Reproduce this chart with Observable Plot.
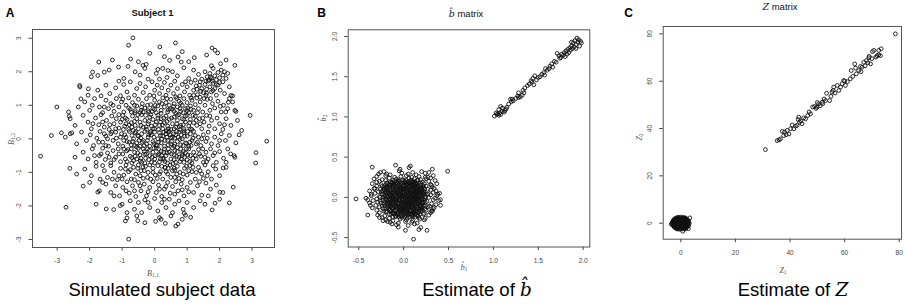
<!DOCTYPE html>
<html>
<head>
<meta charset="utf-8">
<script src="https://cdn.jsdelivr.net/npm/d3@7"></script>
<script src="https://cdn.jsdelivr.net/npm/@observablehq/plot@0.6"></script>
<style>
  html, body { margin: 0; padding: 0; background: #fff; }
  #wrap { position: relative; width: 907px; height: 304px; overflow: hidden; font-family: "Liberation Sans", Arial, sans-serif; }
  .abs { position: absolute; white-space: nowrap; transform: translate(-50%, -50%); line-height: 1; }
  .letter { font-weight: bold; font-size: 12px; color: #000; }
  .title { font-size: 9.5px; color: #111; }
  .caption { font-size: 18.5px; color: #000; }
  .math { font-family: "DejaVu Serif", "Liberation Serif", serif; font-style: italic; }
  .lab { font-family: "Liberation Serif", "DejaVu Serif", serif; font-style: italic; font-size: 8px; color: #555; }
  .lab sub { font-size: 5.5px; font-style: normal; vertical-align: -1.5px; }
  .rot { transform: translate(-50%, -50%) rotate(-90deg); }
  .plot { position: absolute; top: 0; }
</style>
</head>
<body>
<div id="wrap"></div>
<script>
// ---------------- DATA ----------------
// Panel A: simulated subject data (B_{1,1}, B_{1,2})
const subjectPoints = [
[-0.67,3.01],[-0.80,2.79],[0.16,2.74],[0.64,2.86],[1.77,2.71],[1.86,2.64],[1.94,2.56],[-1.72,2.29],[-0.74,2.38],[-1.91,1.99],
[-1.55,1.99],[-1.75,1.89],[-1.11,2.14],[-0.82,2.16],[-0.36,2.19],[-0.26,2.22],[0.10,2.07],[0.41,2.04],[0.46,2.34],[0.72,2.44],
[0.82,2.29],[1.22,2.42],[2.47,2.19],[2.03,2.24],[1.75,2.18],[-2.31,1.59],[-2.04,1.49],[-2.27,1.19],[-3.01,0.95],[-2.63,0.67],
[-3.18,0.10],[-2.87,0.18],[-2.60,0.15],[-3.51,-0.52],[-2.61,-0.88],[-2.73,-2.04],[-2.20,-1.41],[-1.75,-1.59],[-1.49,-2.09],[-1.26,-2.11],
[-1.06,-1.99],[-0.80,-2.99],[-0.85,-2.36],[-0.52,-2.44],[0.03,-2.46],[0.33,-2.52],[0.72,-2.54],[1.11,-2.34],[0.91,-2.22],[1.77,-2.12],
[1.86,-1.92],[2.30,-1.91],[2.01,-1.59],[2.42,-1.44],[3.11,-0.72],[3.12,-0.41],[3.45,-0.07],[2.94,0.70],[2.68,0.25],[2.60,0.12],
[2.34,-0.45],[2.47,-0.55],[2.11,-0.87],[2.35,1.29],[2.27,1.09],[2.47,0.85],[2.19,0.80],[2.02,0.97],
[-0.5,2.3],[0.3,2.45],[1.05,2.3],[-1.3,2.35],[0.85,2.6],[1.6,2.5],[-0.15,2.55],[2.2,2.35],
[-1.95,1.85],[-1.4,2.05],[-0.95,1.8],[-0.6,2.0],[-0.45,1.9],[-0.2,1.78],[0.05,1.95],[0.25,2.1],[0.38,1.83],[0.55,2.0],
[0.7,1.88],[0.9,2.12],[1.05,1.8],[1.2,2.05],[1.35,1.92],[1.45,1.78],[1.55,2.0],[1.62,1.85],[1.7,1.95],[1.75,1.8],
[1.8,2.1],[1.85,1.88],[1.9,1.76],[1.95,1.98],[2.0,1.82],[2.05,2.05],[2.1,1.9],[2.15,2.0],[2.2,1.8],[1.68,1.76],
[1.78,1.72],[2.25,1.95],[-0.3,2.1],[0.15,1.78],
[-2.3,1.55],[-2.05,1.3],[-1.75,1.45],[-1.5,1.6],[-1.38,1.35],[-1.2,1.52],[-1.05,1.28],[-0.95,1.62],[-0.85,1.4],[-0.75,1.7],
[-0.62,1.3],[-0.55,1.5],[-0.45,1.65],[-0.35,1.38],[-0.28,1.55],[-0.15,1.3],[-0.08,1.7],[0.0,1.45],[0.08,1.6],[0.15,1.35],
[0.22,1.52],[0.3,1.68],[0.35,1.3],[0.42,1.45],[0.5,1.6],[0.58,1.35],[0.62,1.72],[0.7,1.5],[0.78,1.28],[0.85,1.62],
[0.92,1.4],[1.0,1.55],[1.08,1.3],[1.12,1.68],[1.2,1.45],[1.28,1.58],[1.32,1.32],[1.4,1.7],[1.45,1.5],[1.5,1.38],
[1.55,1.62],[1.6,1.48],[1.65,1.72],[1.7,1.55],[1.75,1.4],[1.8,1.65],[1.85,1.5],[1.9,1.3],[1.95,1.6],[2.02,1.45],
[2.1,1.7],[2.15,1.35],[2.3,1.55],[2.4,1.28],[1.58,1.3],[1.38,1.6],[0.95,1.7],[-1.65,1.28],[-0.02,1.28],[0.65,1.25],
[1.25,1.75],[2.0,1.68],[-1.1,1.72],
[-2.65,0.8],[-2.15,1.1],[-2.0,0.85],[-1.85,1.2],[-1.7,0.95],[-1.6,0.78],[-1.5,1.15],[-1.42,0.9],[-1.35,1.05],[-1.25,0.82],
[-1.18,1.2],[-1.1,0.95],[-1.02,1.1],[-0.95,0.8],[-0.88,1.0],[-0.8,1.22],[-0.75,0.88],[-0.68,1.08],[-0.6,0.78],[-0.55,0.98],
[-0.5,1.18],[-0.42,0.85],[-0.38,1.05],[-0.3,0.92],[-0.25,1.2],[-0.18,0.8],[-0.12,1.02],[-0.05,0.9],[0.0,1.15],[0.05,0.78],
[0.1,0.98],[0.15,1.1],[0.2,0.85],[0.25,1.22],[0.3,0.95],[0.35,1.08],[0.4,0.8],[0.45,1.0],[0.5,1.18],[0.55,0.88],
[0.6,1.05],[0.65,0.76],[0.7,0.95],[0.75,1.12],[0.8,0.82],[0.85,1.0],[0.9,1.2],[0.95,0.9],[1.0,1.08],[1.05,0.78],
[1.1,0.98],[1.15,1.15],[1.2,0.85],[1.25,1.02],[1.3,1.22],[1.35,0.9],[1.4,1.1],[1.48,0.8],[1.55,1.0],[1.62,1.18],
[1.7,0.85],[1.78,1.05],[1.85,0.92],[1.95,1.12],[2.05,0.8],[2.12,1.0],[2.25,0.9],[2.4,1.1],[2.5,0.82],[-2.35,0.95],
[-0.98,1.18],[-0.72,0.8],[-0.22,1.0],[0.22,1.05],[0.68,1.2],[1.12,0.88],[1.52,1.2],[-1.92,1.0],[-0.45,0.78],[0.38,1.2],
[0.88,0.78],[1.32,0.78],[1.72,1.2],[-1.28,1.0],[-0.08,0.82],[0.58,0.96],[0.02,1.0],[-0.62,1.0],[1.02,0.92],[0.48,0.9],
[-0.35,0.8],[0.78,0.9],[-1.55,0.95],[2.3,1.2],
[-2.45,0.4],[-2.2,0.7],[-2.05,0.5],[-1.95,0.3],[-1.82,0.62],[-1.72,0.42],[-1.65,0.72],[-1.55,0.35],[-1.48,0.55],[-1.4,0.28],
[-1.32,0.68],[-1.25,0.45],[-1.18,0.6],[-1.1,0.32],[-1.05,0.5],[-0.98,0.7],[-0.92,0.38],[-0.85,0.58],[-0.8,0.28],[-0.72,0.48],
[-0.68,0.68],[-0.6,0.4],[-0.55,0.6],[-0.5,0.3],[-0.45,0.5],[-0.4,0.72],[-0.35,0.35],[-0.3,0.55],[-0.25,0.28],[-0.2,0.45],
[-0.15,0.65],[-0.1,0.38],[-0.05,0.58],[0.0,0.3],[0.05,0.5],[0.1,0.7],[0.15,0.4],[0.2,0.6],[0.25,0.3],[0.3,0.48],
[0.35,0.68],[0.4,0.38],[0.45,0.58],[0.5,0.28],[0.55,0.45],[0.6,0.65],[0.65,0.35],[0.7,0.55],[0.75,0.72],[0.8,0.4],
[0.85,0.6],[0.9,0.3],[0.95,0.5],[1.0,0.7],[1.05,0.38],[1.1,0.58],[1.15,0.28],[1.2,0.48],[1.25,0.68],[1.3,0.4],
[1.38,0.6],[1.45,0.3],[1.52,0.5],[1.6,0.7],[1.68,0.38],[1.75,0.55],[1.85,0.3],[1.92,0.62],[2.0,0.45],[2.1,0.28],
[2.2,0.6],[2.35,0.4],[2.55,0.55],[-2.6,0.6],[-1.9,0.45],[-1.38,0.42],[-0.88,0.45],[-0.62,0.52],[-0.42,0.4],[-0.18,0.52],
[0.02,0.42],[0.18,0.5],[0.38,0.52],[0.52,0.62],[0.68,0.45],[0.88,0.42],[1.08,0.48],[1.28,0.55],[1.48,0.62],[-1.0,0.58],
[-0.28,0.7],[0.28,0.62],[0.78,0.28],[1.18,0.7],[-0.7,0.35],[-0.05,0.3],[0.6,0.3],[1.7,0.68],[-1.2,0.3],[0.12,0.28],
[-0.52,0.72],[0.95,0.68],[2.15,0.42],[-1.6,0.5],[0.42,0.3],[-0.12,0.72],[1.4,0.45],[0.7,0.7],
[-2.75,0.05],[-2.4,-0.15],[-2.25,0.2],[-2.1,-0.05],[-1.98,0.12],[-1.88,-0.2],[-1.78,0.02],[-1.68,0.22],[-1.6,-0.1],[-1.5,0.08],
[-1.42,-0.22],[-1.35,0.15],[-1.28,-0.05],[-1.2,0.2],[-1.12,-0.15],[-1.05,0.05],[-0.98,-0.22],[-0.92,0.12],[-0.85,-0.08],[-0.78,0.22],
[-0.72,-0.18],[-0.65,0.0],[-0.6,0.18],[-0.55,-0.12],[-0.5,0.08],[-0.45,-0.22],[-0.4,0.15],[-0.35,-0.05],[-0.3,0.22],[-0.25,-0.15],
[-0.2,0.05],[-0.15,-0.22],[-0.1,0.12],[-0.05,-0.08],[0.0,0.2],[0.05,-0.18],[0.1,0.0],[0.15,0.18],[0.2,-0.12],[0.25,0.08],
[0.3,-0.22],[0.35,0.15],[0.4,-0.05],[0.45,0.22],[0.5,-0.15],[0.55,0.05],[0.6,-0.22],[0.65,0.12],[0.7,-0.08],[0.75,0.2],
[0.8,-0.18],[0.85,0.0],[0.9,0.18],[0.95,-0.12],[1.0,0.08],[1.05,-0.22],[1.1,0.15],[1.15,-0.05],[1.2,0.22],[1.28,-0.15],
[1.35,0.05],[1.42,-0.2],[1.5,0.12],[1.58,-0.08],[1.65,0.2],[1.75,-0.15],[1.85,0.05],[1.95,-0.2],[2.05,0.15],[2.18,-0.05],
[2.3,0.1],[2.5,-0.12],[-2.55,0.18],[-1.55,0.15],[-1.02,0.15],[-0.68,-0.08],[-0.42,0.02],[-0.22,-0.05],[-0.02,0.05],[0.18,0.1],
[0.32,-0.05],[0.48,0.12],[0.62,0.02],[0.78,-0.02],[0.92,0.08],[1.08,-0.1],[1.25,0.1],[1.45,0.0],[-0.88,0.05],[-0.32,-0.2],
[0.08,-0.2],[0.42,0.2],[0.88,-0.2],[1.18,0.02],[-1.18,0.02],[-0.58,0.22],[0.28,0.2],[0.68,0.22],[1.62,0.02],[-1.72,-0.1],
[-0.12,0.22],[0.52,-0.08],[1.02,0.22],[-0.78,-0.1],[0.12,-0.1],[0.72,0.05],[-0.48,-0.05],[0.38,0.05],[1.32,-0.1],[-1.45,0.0],
[2.0,-0.05],[-0.18,0.12],[0.58,0.15],[-0.95,-0.05],[0.22,0.0],[0.82,0.12],[-0.62,-0.2],[1.12,-0.2],
[-2.2,-0.4],[-2.05,-0.6],[-1.92,-0.3],[-1.8,-0.7],[-1.7,-0.5],[-1.6,-0.28],[-1.52,-0.62],[-1.45,-0.42],[-1.35,-0.72],[-1.28,-0.35],
[-1.2,-0.55],[-1.12,-0.3],[-1.05,-0.68],[-0.98,-0.45],[-0.9,-0.6],[-0.82,-0.32],[-0.75,-0.52],[-0.7,-0.72],[-0.62,-0.4],[-0.55,-0.6],
[-0.5,-0.28],[-0.45,-0.48],[-0.4,-0.7],[-0.32,-0.38],[-0.28,-0.58],[-0.22,-0.3],[-0.15,-0.5],[-0.1,-0.7],[-0.05,-0.4],[0.0,-0.6],
[0.05,-0.28],[0.1,-0.48],[0.15,-0.68],[0.2,-0.38],[0.25,-0.58],[0.3,-0.3],[0.35,-0.5],[0.4,-0.72],[0.45,-0.4],[0.5,-0.6],
[0.55,-0.28],[0.6,-0.48],[0.65,-0.7],[0.7,-0.38],[0.75,-0.55],[0.8,-0.3],[0.85,-0.5],[0.9,-0.7],[0.95,-0.42],[1.0,-0.62],
[1.05,-0.3],[1.1,-0.5],[1.15,-0.72],[1.2,-0.4],[1.28,-0.6],[1.35,-0.32],[1.42,-0.52],[1.5,-0.7],[1.58,-0.4],[1.65,-0.6],
[1.72,-0.3],[1.8,-0.5],[1.9,-0.7],[2.0,-0.38],[2.12,-0.58],[2.25,-0.3],[2.45,-0.5],[-2.45,-0.55],[-1.65,-0.45],[-1.1,-0.45],
[-0.85,-0.68],[-0.6,-0.52],[-0.35,-0.3],[-0.18,-0.62],[0.02,-0.5],[0.22,-0.5],[0.42,-0.3],[0.6,-0.62],[0.78,-0.68],[0.98,-0.3],
[1.18,-0.58],[1.38,-0.45],[1.6,-0.68],[-1.25,-0.62],[-0.72,-0.3],[-0.42,-0.58],[0.12,-0.3],[0.32,-0.68],[0.68,-0.52],[0.88,-0.38],
[1.08,-0.68],[1.48,-0.3],[1.85,-0.42],[-1.4,-0.55],[-0.95,-0.3],[-0.25,-0.45],[0.52,-0.45],[1.25,-0.5],[-0.08,-0.55],[0.18,-0.6],
[0.82,-0.6],[-0.52,-0.42],[0.38,-0.42],[1.02,-0.48],[2.2,-0.7],[-1.85,-0.5],[-0.65,-0.65],[0.62,-0.35],[1.55,-0.55],[-0.3,-0.72],
[0.28,-0.4],[0.92,-0.55],
[-2.15,-0.9],[-1.95,-1.1],[-1.8,-0.82],[-1.68,-1.2],[-1.55,-0.95],[-1.45,-1.15],[-1.35,-0.8],[-1.25,-1.0],[-1.15,-1.22],[-1.05,-0.88],
[-0.95,-1.08],[-0.88,-0.78],[-0.8,-0.98],[-0.72,-1.2],[-0.65,-0.85],[-0.58,-1.05],[-0.5,-0.78],[-0.42,-0.95],[-0.35,-1.18],[-0.28,-0.82],
[-0.2,-1.0],[-0.12,-1.2],[-0.05,-0.88],[0.02,-1.08],[0.1,-0.8],[0.18,-0.98],[0.25,-1.2],[0.32,-0.85],[0.4,-1.05],[0.48,-0.78],
[0.55,-0.95],[0.62,-1.15],[0.7,-0.82],[0.78,-1.0],[0.85,-1.22],[0.92,-0.88],[1.0,-1.08],[1.08,-0.8],[1.15,-0.98],[1.25,-1.2],
[1.35,-0.85],[1.45,-1.05],[1.55,-0.78],[1.65,-0.98],[1.75,-1.2],[1.88,-0.9],[2.0,-1.1],[2.2,-0.85],[-2.4,-1.05],[-1.6,-0.8],
[-1.1,-1.1],[-0.75,-0.92],[-0.45,-1.1],[-0.15,-0.78],[0.08,-1.18],[0.35,-0.98],[0.6,-0.88],[0.88,-1.05],[1.18,-0.85],[1.5,-1.18],
[1.8,-0.8],[-1.3,-1.2],[-0.62,-1.22],[-0.32,-0.95],[0.22,-0.82],[0.5,-1.15],[0.75,-1.18],[1.05,-0.95],[1.4,-0.95],[-0.9,-0.9],
[-0.05,-1.0],[0.42,-0.88],[0.98,-0.82],[-1.0,-1.2],[1.62,-1.1],[-0.52,-0.88],[0.15,-1.05],[0.68,-1.05],[-0.22,-1.15],[1.28,-1.0],
[-2.0,-1.3],[-1.7,-1.55],[-1.5,-1.35],[-1.35,-1.6],[-1.2,-1.4],[-1.08,-1.7],[-0.98,-1.45],[-0.85,-1.28],[-0.78,-1.62],[-0.68,-1.4],
[-0.58,-1.72],[-0.5,-1.3],[-0.42,-1.55],[-0.32,-1.35],[-0.25,-1.7],[-0.15,-1.45],[-0.05,-1.28],[0.05,-1.6],[0.12,-1.38],[0.22,-1.72],
[0.3,-1.5],[0.4,-1.3],[0.48,-1.62],[0.55,-1.42],[0.65,-1.28],[0.72,-1.55],[0.82,-1.35],[0.9,-1.7],[1.0,-1.45],[1.1,-1.3],
[1.2,-1.6],[1.32,-1.4],[1.45,-1.68],[1.58,-1.32],[1.72,-1.5],[1.9,-1.38],[2.1,-1.6],[-1.25,-1.7],[-0.88,-1.55],[-0.45,-1.4],
[0.15,-1.5],[0.62,-1.65],[1.05,-1.58],[1.38,-1.28],[-1.6,-1.3],[-0.62,-1.55],[0.35,-1.42],[0.85,-1.52],[-0.2,-1.58],[1.65,-1.7],
[-1.0,-1.95],[-0.75,-1.85],[-0.62,-2.1],[-0.5,-1.9],[-0.4,-2.2],[-0.3,-1.82],[-0.15,-2.05],[0.0,-1.78],[0.1,-2.15],[0.22,-1.9],
[0.35,-2.05],[0.45,-1.8],[0.55,-2.2],[0.62,-1.95],[0.75,-1.85],[0.88,-2.1],[1.0,-1.9],[1.2,-2.05],[1.4,-1.85],[-1.8,-1.95],
[-0.85,-2.2],[0.3,-1.8],[-0.2,-1.9],[1.55,-1.95],[2.0,-1.8],
[-0.55,-2.3],[-0.3,-2.5],[0.15,-2.35],[0.2,-2.4],[0.5,-2.3],[0.95,-2.28],[-0.9,-2.45],[0.65,-2.6],[0.85,-2.4],
[-0.9,0.62],[-0.78,0.42],[-0.66,0.25],[-0.52,0.1],[-0.38,-0.1],[-0.26,0.36],[-0.14,0.18],[-0.02,-0.14],[0.1,0.62],[0.24,0.42],
[0.36,0.24],[0.5,0.04],[0.62,-0.16],[0.76,0.36],[0.9,0.58],[-0.86,-0.36],[-0.7,-0.56],[-0.56,-0.24],[-0.44,-0.66],[-0.3,-0.46],
[-0.16,-0.34],[0.0,-0.72],[0.14,-0.44],[0.28,-0.62],[0.42,-0.18],[0.56,-0.74],[0.7,-0.26],[0.84,-0.44],[0.98,-0.14],[-0.96,0.28],
[-0.8,0.92],[-0.6,0.84],[-0.4,0.94],[-0.2,0.84],[0.0,0.88],[0.2,0.76],[0.42,0.86],[0.6,0.82],[0.8,1.06],[1.0,0.84],
[1.2,1.3],[1.4,1.24],[1.6,1.36],[1.8,1.44],[1.9,1.62],[1.72,1.84],[1.58,1.72],[1.42,1.42],[1.3,1.48],[1.12,1.22],
[-0.02,-0.28],[0.32,-0.86],[-0.36,-0.84],[0.62,-0.94],[-0.7,0.1],[0.9,0.24],[1.1,0.3],[-1.1,0.72],[-1.32,0.2],[-1.5,-0.2]
];

// Panel B: estimate of b-hat (b1, b2) — central cluster and the diagonal group
const bhatCluster = [
[-0.53,-0.02],[-0.40,-0.03],[-0.40,-0.22],[-0.35,0.375],[-0.37,-0.10],[-0.26,0.31],[-0.09,0.40],[0.075,0.39],[0.06,0.37],[0.32,0.35],
[0.49,0.325],[0.41,-0.03],[0.41,-0.10],[0.38,0.04],[0.31,0.15],[0.11,-0.52],[0.02,-0.41],[-0.06,-0.37],[0.17,-0.40],[0.26,-0.41],
[-0.30,0.19],[-0.32,0.11],[-0.36,0.04],[0.32,-0.17],[0.34,-0.125],[0.19,-0.375],[-0.23,-0.29],[-0.27,-0.25],[-0.18,-0.30],[-0.13,-0.33],
[0.24,0.25],[-0.19,0.29],[-0.04,0.35],
[-0.22,0.32],[-0.05,0.33],[0.1,0.31],[0.2,0.32],[0.28,0.31],
[-0.28,0.29],[-0.15,0.28],[-0.02,0.3],[0.05,0.29],[0.14,0.28],[0.24,0.3],
[-0.3,0.26],[-0.2,0.27],[-0.1,0.25],[-0.03,0.26],[0.03,0.27],[0.09,0.25],[0.17,0.26],[0.27,0.25],[0.33,0.27],
[-0.33,0.23],[-0.24,0.22],[-0.16,0.24],[-0.08,0.23],[-0.01,0.22],[0.06,0.24],[0.12,0.23],[0.19,0.22],[0.25,0.23],[0.3,0.24],
[-0.27,0.2],[-0.2,0.21],[-0.13,0.19],[-0.06,0.2],[0.0,0.21],[0.05,0.19],[0.1,0.2],[0.15,0.21],[0.21,0.19],[0.28,0.2],[0.35,0.21],
[-0.35,0.17],[-0.25,0.16],[-0.18,0.18],[-0.11,0.17],[-0.05,0.16],[0.01,0.18],[0.07,0.17],[0.12,0.16],[0.17,0.18],[0.23,0.17],[0.3,0.16],[0.37,0.17],
[-0.3,0.14],[-0.22,0.13],[-0.15,0.15],[-0.09,0.14],[-0.03,0.13],[0.03,0.15],[0.08,0.14],[0.13,0.13],[0.19,0.15],[0.25,0.14],[0.32,0.13],
[-0.33,0.11],[-0.26,0.1],[-0.19,0.12],[-0.12,0.11],[-0.07,0.1],[-0.01,0.12],[0.04,0.11],[0.1,0.1],[0.15,0.12],[0.2,0.11],[0.27,0.1],[0.34,0.11],
[-0.38,0.08],[-0.28,0.07],[-0.21,0.09],[-0.15,0.08],[-0.09,0.07],[-0.04,0.09],[0.02,0.08],[0.07,0.07],[0.12,0.09],[0.17,0.08],[0.23,0.07],[0.3,0.09],[0.36,0.08],
[-0.32,0.05],[-0.24,0.04],[-0.17,0.06],[-0.11,0.05],[-0.06,0.04],[0.0,0.06],[0.05,0.05],[0.1,0.04],[0.15,0.06],[0.21,0.05],[0.27,0.04],[0.33,0.06],[0.4,0.05],
[-0.36,0.02],[-0.27,0.01],[-0.2,0.03],[-0.13,0.02],[-0.08,0.01],[-0.02,0.03],[0.03,0.02],[0.08,0.01],[0.13,0.03],[0.18,0.02],[0.24,0.01],[0.3,0.03],[0.37,0.02],
[-0.42,-0.01],[-0.3,-0.02],[-0.23,0.0],[-0.16,-0.01],[-0.1,-0.02],[-0.05,0.0],[0.01,-0.01],[0.06,-0.02],[0.11,0.0],[0.16,-0.01],[0.22,-0.02],[0.28,0.0],[0.35,-0.01],
[-0.34,-0.04],[-0.26,-0.05],[-0.19,-0.03],[-0.12,-0.04],[-0.07,-0.05],[-0.01,-0.03],[0.04,-0.04],[0.09,-0.05],[0.14,-0.03],[0.2,-0.04],[0.26,-0.05],[0.33,-0.03],[0.39,-0.04],
[-0.38,-0.07],[-0.29,-0.06],[-0.22,-0.08],[-0.15,-0.07],[-0.09,-0.06],[-0.03,-0.08],[0.02,-0.07],[0.07,-0.06],[0.12,-0.08],[0.18,-0.07],[0.24,-0.06],[0.31,-0.08],
[-0.31,-0.1],[-0.24,-0.11],[-0.17,-0.09],[-0.11,-0.1],[-0.05,-0.11],[0.0,-0.09],[0.05,-0.1],[0.1,-0.11],[0.16,-0.09],[0.22,-0.1],[0.29,-0.11],[0.36,-0.09],
[-0.35,-0.13],[-0.27,-0.12],[-0.2,-0.14],[-0.13,-0.13],[-0.07,-0.12],[-0.02,-0.14],[0.04,-0.13],[0.09,-0.12],[0.14,-0.14],[0.2,-0.13],[0.27,-0.12],[0.33,-0.14],
[-0.3,-0.16],[-0.22,-0.17],[-0.15,-0.15],[-0.09,-0.16],[-0.03,-0.17],[0.02,-0.15],[0.07,-0.16],[0.13,-0.17],[0.18,-0.15],[0.25,-0.16],[0.31,-0.17],
[-0.27,-0.19],[-0.19,-0.18],[-0.12,-0.2],[-0.06,-0.19],[0.0,-0.18],[0.06,-0.2],[0.11,-0.19],[0.17,-0.18],[0.23,-0.2],[0.3,-0.19],
[-0.29,-0.22],[-0.21,-0.23],[-0.14,-0.21],[-0.07,-0.22],[-0.01,-0.23],[0.05,-0.21],[0.1,-0.22],[0.16,-0.23],[0.22,-0.21],[0.28,-0.22],
[-0.24,-0.25],[-0.16,-0.26],[-0.09,-0.24],[-0.02,-0.25],[0.04,-0.26],[0.1,-0.24],[0.17,-0.25],[0.24,-0.26],
[-0.2,-0.28],[-0.12,-0.29],[-0.04,-0.27],[0.03,-0.28],[0.1,-0.29],[0.18,-0.27],[0.23,-0.28],
[-0.15,-0.31],[-0.06,-0.32],[0.02,-0.3],[0.09,-0.31],[0.15,-0.32],
[-0.08,-0.34],[0.05,-0.35],[0.12,-0.33],
[-0.15,0.185],[-0.08,0.19],[-0.02,0.18],[0.04,0.185],[0.09,0.19],[0.14,0.18],
[-0.2,0.155],[-0.12,0.15],[0.0,0.16],[0.1,0.155],[0.16,0.15],
[-0.16,0.125],[-0.04,0.12],[0.06,0.13],[0.13,0.125],[0.22,0.12],
[-0.18,0.095],[-0.11,0.09],[-0.01,0.1],[0.05,0.095],[0.15,0.09],[0.2,0.1],
[-0.2,0.065],[-0.13,0.06],[-0.03,0.07],[0.08,0.065],[0.13,0.06],[0.18,0.07],
[-0.16,0.035],[-0.05,0.03],[0.06,0.04],[0.11,0.035],[0.16,0.03],[0.22,0.04],
[-0.19,0.005],[-0.12,0.0],[-0.02,0.01],[0.04,0.005],[0.14,0.0],[0.19,0.01],
[-0.15,-0.025],[-0.04,-0.03],[0.07,-0.02],[0.12,-0.025],[0.17,-0.03],
[-0.18,-0.055],[-0.11,-0.05],[0.0,-0.06],[0.05,-0.055],[0.15,-0.05],[0.21,-0.06],
[-0.13,-0.085],[-0.06,-0.08],[0.05,-0.09],[0.1,-0.085],[0.16,-0.08],
[-0.15,-0.115],[-0.08,-0.11],[0.02,-0.12],[0.07,-0.115],[0.18,-0.11],
[-0.17,-0.145],[-0.05,-0.14],[0.0,-0.15],[0.1,-0.145],[0.16,-0.14],
[-0.14,-0.175],[-0.02,-0.17],[0.04,-0.18],[0.14,-0.175],
[-0.1,-0.205],[0.03,-0.2],[0.08,-0.21],[0.13,-0.205],
[-0.12,0.215],[-0.06,0.215],[0.02,0.215],[0.08,0.215],[0.16,0.215],
[-0.19,0.175],[-0.13,0.175],[-0.065,0.175],[0.025,0.175],[0.065,0.175],[0.115,0.175],[0.19,0.175],
[-0.24,0.14],[-0.18,0.14],[-0.11,0.14],[-0.055,0.14],[0.005,0.14],[0.055,0.14],[0.105,0.14],[0.165,0.14],[0.22,0.14],
[-0.22,0.105],[-0.15,0.105],[-0.09,0.105],[-0.04,0.105],[0.015,0.105],[0.075,0.105],[0.125,0.105],[0.175,0.105],[0.235,0.105],
[-0.25,0.07],[-0.17,0.07],[-0.115,0.07],[-0.06,0.07],[-0.005,0.07],[0.04,0.07],[0.1,0.07],[0.155,0.07],[0.215,0.07],
[-0.22,0.035],[-0.145,0.035],[-0.09,0.035],[-0.03,0.035],[0.015,0.035],[0.085,0.035],[0.135,0.035],[0.19,0.035],[0.25,0.035],
[-0.26,0.0],[-0.175,0.0],[-0.135,0.0],[-0.075,0.0],[-0.03,0.0],[0.025,0.0],[0.085,0.0],[0.125,0.0],[0.175,0.0],[0.24,0.0],
[-0.23,-0.035],[-0.165,-0.035],[-0.095,-0.035],[-0.055,-0.035],[0.015,-0.035],[0.065,-0.035],[0.115,-0.035],[0.165,-0.035],[0.23,-0.035],
[-0.25,-0.07],[-0.18,-0.07],[-0.12,-0.07],[-0.055,-0.07],[-0.005,-0.07],[0.045,-0.07],[0.095,-0.07],[0.145,-0.07],[0.21,-0.07],
[-0.21,-0.105],[-0.14,-0.105],[-0.08,-0.105],[-0.025,-0.105],[0.025,-0.105],[0.085,-0.105],[0.135,-0.105],[0.195,-0.105],[0.245,-0.105],
[-0.23,-0.14],[-0.12,-0.14],[-0.075,-0.14],[-0.025,-0.14],[0.05,-0.14],[0.11,-0.14],[0.2,-0.14],[0.24,-0.14],
[-0.2,-0.175],[-0.1,-0.175],[-0.045,-0.175],[0.01,-0.175],[0.08,-0.175],[0.115,-0.175],[0.19,-0.175],
[-0.16,-0.21],[-0.06,-0.21],[0.005,-0.21],[0.055,-0.21],[0.1,-0.21],[0.18,-0.21],
[-0.12,-0.245],[-0.05,-0.245],[0.01,-0.245],[0.07,-0.245],[0.13,-0.245],
[-0.11,0.195],[-0.045,0.195],[0.015,0.195],[0.065,0.195],[0.12,0.195],
[-0.16,0.158],[-0.085,0.158],[-0.03,0.158],[0.035,0.158],[0.085,0.158],[0.14,0.158],
[-0.2,0.122],[-0.13,0.122],[-0.075,0.122],[-0.02,0.122],[0.035,0.122],[0.09,0.122],[0.15,0.122],[0.2,0.122],
[-0.23,0.087],[-0.145,0.087],[-0.075,0.087],[-0.025,0.087],[0.03,0.087],[0.09,0.087],[0.14,0.087],[0.2,0.087],
[-0.19,0.052],[-0.13,0.052],[-0.075,0.052],[-0.015,0.052],[0.03,0.052],[0.075,0.052],[0.12,0.052],[0.17,0.052],[0.23,0.052],
[-0.21,0.017],[-0.15,0.017],[-0.1,0.017],[-0.05,0.017],[0.0,0.017],[0.05,0.017],[0.1,0.017],[0.15,0.017],[0.21,0.017],
[-0.2,-0.018],[-0.13,-0.018],[-0.075,-0.018],[-0.02,-0.018],[0.04,-0.018],[0.09,-0.018],[0.14,-0.018],[0.2,-0.018],
[-0.21,-0.052],[-0.14,-0.052],[-0.085,-0.052],[-0.025,-0.052],[0.025,-0.052],[0.075,-0.052],[0.125,-0.052],[0.18,-0.052],
[-0.19,-0.087],[-0.15,-0.087],[-0.09,-0.087],[-0.03,-0.087],[0.02,-0.087],[0.07,-0.087],[0.125,-0.087],[0.19,-0.087],
[-0.18,-0.122],[-0.105,-0.122],[-0.05,-0.122],[0.0,-0.122],[0.045,-0.122],[0.1,-0.122],[0.15,-0.122],[0.21,-0.122],
[-0.15,-0.158],[-0.09,-0.158],[-0.02,-0.158],[0.03,-0.158],[0.09,-0.158],[0.14,-0.158],[0.2,-0.158],
[-0.12,-0.192],[-0.07,-0.192],[-0.02,-0.192],[0.05,-0.192],[0.11,-0.192],[0.16,-0.192],
[-0.09,-0.228],[-0.03,-0.228],[0.03,-0.228],[0.09,-0.228],[0.15,-0.228]
];
const bhatLine = [
[1.01,1.01],[1.03,1.05],[1.04,1.03],[1.05,1.04],[1.06,1.02],[1.07,1.05],[1.08,1.03],[1.06,1.09],[1.08,1.13],[1.1,1.07],
[1.12,1.06],[1.13,1.08],[1.14,1.1],[1.15,1.12],[1.17,1.16],[1.2,1.19],[1.21,1.22],[1.22,1.2],[1.25,1.23],[1.27,1.26],
[1.28,1.3],[1.3,1.25],[1.32,1.27],[1.33,1.33],[1.34,1.3],[1.35,1.36],[1.38,1.39],[1.4,1.41],[1.42,1.45],[1.43,1.43],
[1.44,1.48],[1.45,1.4],[1.48,1.46],[1.5,1.49],[1.52,1.5],[1.54,1.53],[1.56,1.55],[1.57,1.52],[1.6,1.58],[1.62,1.6],
[1.63,1.63],[1.65,1.66],[1.66,1.62],[1.68,1.69],[1.7,1.68],[1.71,1.79],[1.73,1.76],[1.75,1.74],[1.76,1.78],[1.78,1.77],
[1.79,1.8],[1.8,1.75],[1.81,1.82],[1.82,1.78],[1.83,1.84],[1.84,1.8],[1.85,1.86],[1.86,1.83],[1.87,1.88],[1.88,1.85],
[1.89,1.92],[1.9,1.87],[1.91,1.95],[1.92,1.9],[1.93,1.98],[1.94,1.93],[1.95,1.96],[1.96,1.88],[1.97,1.94],[1.98,1.92],
[1.92,1.85],[1.87,1.93],[1.74,1.73],[1.58,1.6],[1.46,1.51],[1.28,1.24],[1.19,1.22],[1.1,1.11]
];

// Panel C: estimate of Z (Z1, Z2)
const zCluster = [
[-1,2.5],[0,2.6],[1,2.4],
[-2,2.0],[-1.2,2.1],[-0.4,1.9],[0.4,2.0],[1.2,2.1],[2,1.9],
[-2.5,1.5],[-1.7,1.4],[-0.9,1.6],[-0.1,1.5],[0.7,1.4],[1.5,1.6],[2.3,1.5],
[-2.8,1.0],[-2,1.1],[-1.2,0.9],[-0.4,1.0],[0.4,1.1],[1.2,0.9],[2,1.0],[2.8,1.1],
[-3,0.5],[-2.2,0.4],[-1.4,0.6],[-0.6,0.5],[0.2,0.4],[1,0.6],[1.8,0.5],[2.6,0.4],
[-3.2,0.0],[-2.4,0.1],[-1.6,-0.1],[-0.8,0.0],[0,0.1],[0.8,-0.1],[1.6,0.0],[2.4,0.1],[3.1,0.0],
[-2.9,-0.5],[-2.1,-0.4],[-1.3,-0.6],[-0.5,-0.5],[0.3,-0.4],[1.1,-0.6],[1.9,-0.5],[2.7,-0.4],
[-2.7,-1.0],[-1.9,-1.1],[-1.1,-0.9],[-0.3,-1.0],[0.5,-1.1],[1.3,-0.9],[2.1,-1.0],[2.8,-1.1],
[-2.4,-1.5],[-1.6,-1.4],[-0.8,-1.6],[0,-1.5],[0.8,-1.4],[1.6,-1.6],[2.4,-1.5],
[-2,-2.0],[-1.2,-2.1],[-0.4,-1.9],[0.4,-2.0],[1.2,-2.1],[2,-1.9],
[-1.2,-2.5],[-0.3,-2.6],[0.6,-2.4],[1.4,-2.5],
[3.3,2.25],[0.7,-3.4],[-3.5,-0.5],[2.8,-2.3],
[-1.5,2.25],[-0.6,2.25],[0.2,2.25],[1.0,2.25],[1.6,2.25],
[-2.2,1.75],[-1.4,1.75],[-0.6,1.75],[0.2,1.75],[1.0,1.75],[1.8,1.75],
[-2.6,1.25],[-1.8,1.25],[-1.0,1.25],[-0.2,1.25],[0.6,1.25],[1.4,1.25],[2.2,1.25],
[-2.8,0.75],[-2.0,0.75],[-1.2,0.75],[-0.4,0.75],[0.4,0.75],[1.2,0.75],[2.0,0.75],[2.8,0.75],
[-3.0,0.25],[-2.0,0.25],[-1.2,0.25],[-0.4,0.25],[0.4,0.25],[1.2,0.25],[2.0,0.25],[2.8,0.25],
[-3.0,-0.25],[-2.2,-0.25],[-1.4,-0.25],[-0.6,-0.25],[0.2,-0.25],[1.0,-0.25],[1.8,-0.25],[2.6,-0.25],
[-2.8,-0.75],[-2.0,-0.75],[-1.2,-0.75],[-0.4,-0.75],[0.4,-0.75],[1.2,-0.75],[2.0,-0.75],[2.6,-0.75],
[-2.6,-1.25],[-1.8,-1.25],[-1.0,-1.25],[-0.2,-1.25],[0.6,-1.25],[1.4,-1.25],[2.2,-1.25],
[-2.2,-1.75],[-1.4,-1.75],[-0.6,-1.75],[0.2,-1.75],[1.0,-1.75],[1.8,-1.75],
[-1.6,-2.25],[-0.8,-2.25],[0.0,-2.25],[0.9,-2.25],[1.8,-2.25]
];
const zLine = [
[31.0,31.1],[35.3,34.9],[36.5,35.6],[37.7,37.0],[38.0,38.5],[38.6,37.4],[39.6,37.7],[40.2,39.9],[41.4,39.9],[42.0,41.0],
[42.6,41.3],[43.2,44.8],[43.5,42.7],[43.0,43.8],[44.4,42.0],[45.0,44.5],[45.7,44.1],[46.5,45.5],[47.5,46.2],[48.3,49.1],
[49.0,49.3],[49.5,48.5],[49.9,49.0],[50.5,50.4],[51.0,49.6],[51.8,51.1],[52.5,52.5],[53.0,51.8],[53.4,54.9],[54.5,51.8],
[55.0,53.6],[55.4,55.4],[55.8,56.1],[56.5,55.0],[57.3,58.2],[57.9,56.1],[58.5,57.5],[59.1,58.9],[59.7,60.3],[60.3,58.2],
[61.0,59.8],[62.1,61.0],[62.4,64.5],[63.0,62.0],[63.7,67.3],[64.3,63.1],[65.2,64.5],[65.8,66.2],[66.4,65.9],[67.0,68.0],
[67.5,66.5],[68.0,68.7],[68.5,67.8],[68.9,69.9],[69.5,67.3],[70.0,69.5],[70.7,73.0],[71.5,70.2],[71.9,70.8],[72.5,71.1],
[73.1,70.8],[73.4,73.7],[72.5,73.0],[78.6,80.0],[36.0,35.2],[40.8,41.5],[44.0,43.2],[47.0,47.0],[50.0,51.0],[52.0,50.5],
[56.0,57.5],[60.0,60.0],[64.0,65.5],[66.0,64.0],[69.0,70.5],[70.2,72.5],[37.2,38.8],[39.0,39.2]
];

// Tick values
const ticksA = [-3, -2, -1, 0, 1, 2, 3];
const ticksB = [-0.5, 0.0, 0.5, 1.0, 1.5, 2.0];
const ticksC = [0, 20, 40, 60, 80];

// ---------------- DRAW ----------------
const wrap = document.getElementById("wrap");
const H = 270;

function panel({left, width, ml, mr, mt, bottom, xd, yd, xt, yt, fmt, sets}) {
  const labelStyle = {fontSize: 6.5, fill: "#444", fontFamily: "Liberation Sans, Arial, sans-serif"};
  const chart = Plot.plot({
    width, height: H,
    marginLeft: ml, marginRight: mr, marginTop: mt, marginBottom: H - bottom,
    x: {domain: xd, axis: null},
    y: {domain: yd, axis: null},
    style: {background: "transparent", overflow: "visible", fontFamily: "Liberation Sans, Arial, sans-serif"},
    marks: [
      Plot.axisX({ticks: xt, tickSize: 3.5, tickFormat: () => "", label: null, stroke: "#444"}),
      Plot.axisY({ticks: yt, tickSize: 3.5, tickFormat: () => "", label: null, stroke: "#444"}),
      Plot.text(xt, {x: d => d, text: fmt, frameAnchor: "bottom", dy: 13.5, lineAnchor: "middle", textAnchor: "middle", ...labelStyle}),
      Plot.text(yt, {y: d => d, text: fmt, frameAnchor: "left", dx: -13.5, rotate: -90, lineAnchor: "middle", textAnchor: "middle", ...labelStyle}),
      ...sets.map(s => Plot.dot(s, {x: d => d[0], y: d => d[1], r: 1.9, fill: "none", stroke: "#111", strokeWidth: 0.9})),
      Plot.frame({stroke: "#555", strokeWidth: 1})
    ]
  });
  chart.classList.add("plot");
  chart.style.left = left + "px";
  wrap.appendChild(chart);
}

panel({left: 0, width: 300, ml: 32, mr: 26, mt: 29, bottom: 247,
  xd: [-3.76, 3.69], yd: [-3.24, 3.26], xt: ticksA, yt: ticksA,
  fmt: d => String(d), sets: [subjectPoints]});

panel({left: 300, width: 307, ml: 47.7, mr: 17.7, mt: 29.3, bottom: 246.5,
  xd: [-0.618, 2.074], yd: [-0.617, 2.083], xt: ticksB, yt: ticksB,
  fmt: d => d.toFixed(1), sets: [bhatCluster, bhatLine]});

panel({left: 610, width: 297, ml: 52.7, mr: 6, mt: 26, bottom: 238.7,
  xd: [-6.45, 80.84], yd: [-6.76, 83.1], xt: ticksC, yt: ticksC,
  fmt: d => String(d), sets: [zCluster, zLine]});

// ---------------- TEXT ----------------
function addText(html, cls, x, y) {
  const d = document.createElement("div");
  d.className = "abs " + cls;
  d.innerHTML = html;
  d.style.left = x + "px";
  d.style.top = y + "px";
  wrap.appendChild(d);
}
addText("A", "letter", 10, 12.5);
addText("B", "letter", 321.5, 12.5);
addText("C", "letter", 628.5, 12.5);

addText("<b>Subject 1</b>", "title", 152.5, 12.7);
addText('<span class="math">b&#770;</span> matrix', "title", 466, 13.5);
addText('<span class="math">Z</span> matrix', "title", 780, 6.8);

addText('<i>B</i><sub>1,1</sub>', "lab", 153, 274);
addText('<i>B</i><sub>1,2</sub>', "lab rot", 11.5, 139);
addText('<i>b&#770;</i><sub>1</sub>', "lab", 464, 268);
addText('<i>b&#770;</i><sub>2</sub>', "lab rot", 324, 118);
addText('<i>Z</i><sub>1</sub>', "lab", 783, 271);
addText('<i>Z</i><sub>2</sub>', "lab rot", 640, 137);

addText("Simulated subject data", "caption", 162, 290);
addText('Estimate of <span class="math">b&#770;</span>', "caption", 477, 290);
addText('Estimate of <span class="math">Z</span>', "caption", 793, 290);
</script>
</body>
</html>
